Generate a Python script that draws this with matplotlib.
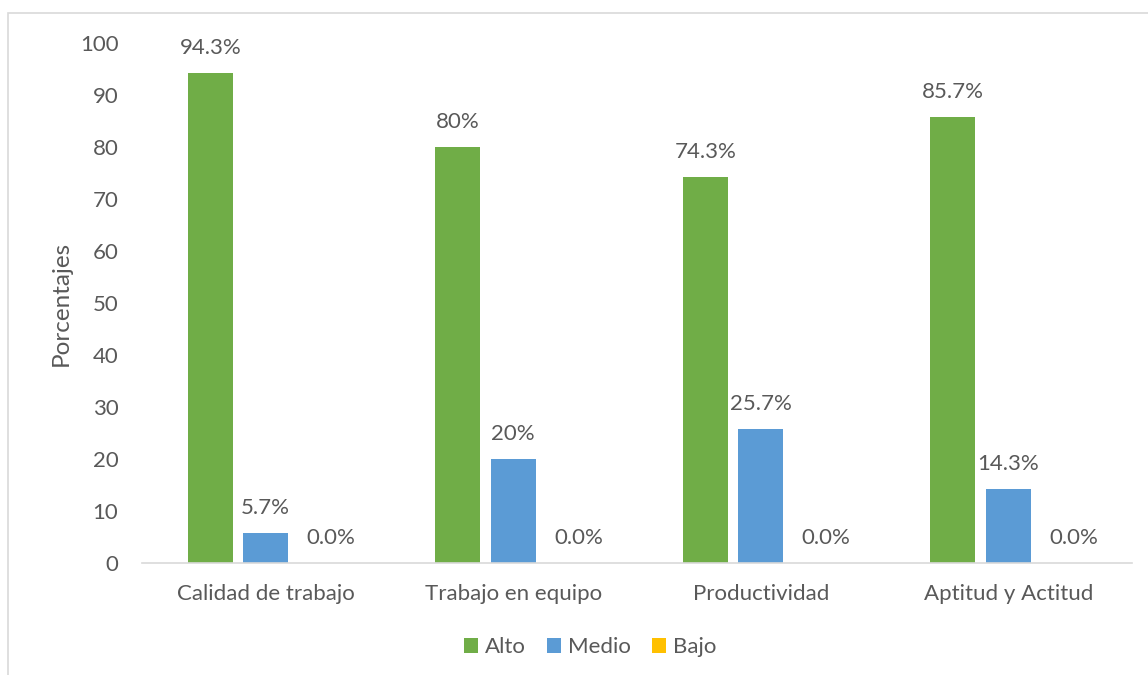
import numpy as np
import matplotlib
matplotlib.use("Agg")
import matplotlib.pyplot as plt
from matplotlib.patches import Rectangle

categorias = ["Calidad de trabajo", "Trabajo en equipo", "Productividad", "Aptitud y Actitud"]
alto = [94.3, 80, 74.3, 85.7]
medio = [5.7, 20, 25.7, 14.3]
bajo = [0.0, 0.0, 0.0, 0.0]
etiq_alto = ["94.3%", "80%", "74.3%", "85.7%"]
etiq_medio = ["5.7%", "20%", "25.7%", "14.3%"]
etiq_bajo = ["0.0%", "0.0%", "0.0%", "0.0%"]

plt.rcParams['font.family'] = ['Lato', 'DejaVu Sans']
gris = '#595959'

fig = plt.figure(figsize=(11.48, 6.75), dpi=100)
ax = fig.add_axes([142/1148, 1-563/675, (1132-142)/1148, (563-43)/675])

# marco del grafico (solo se ven el lado izquierdo y el superior)
fig.patches.append(Rectangle((8/1148, -0.1), 1.2, 1-13/675+0.1, transform=fig.transFigure,
                             fill=False, edgecolor='#D9D9D9', lw=1.2))

x = np.arange(len(categorias))
w = 0.182
off = 0.224
series = [(alto, etiq_alto, '#70AD47', 'Alto'),
          (medio, etiq_medio, '#5B9BD5', 'Medio'),
          (bajo, etiq_bajo, '#FFC000', 'Bajo')]
for i, (vals, etq, col, nom) in enumerate(series):
    pos = x + (i-1)*off
    ax.bar(pos, vals, width=w, color=col, label=nom)
    for p, v, t in zip(pos, vals, etq):
        # Excel corre un poco a la derecha las etiquetas de barras en cero
        dx = 7 if v == 0 else 0
        ax.annotate(t, (p, v + 4.8), xytext=(dx, 0), textcoords='offset points',
                    ha='center', va='center', fontsize=16, color=gris)

ax.set_xlim(-0.5, 3.5)
ax.set_ylim(0, 100)
ax.set_yticks(np.arange(0, 101, 10))
ax.set_xticks(x)
ax.set_xticklabels(categorias)
ax.tick_params(axis='both', length=0, labelsize=16, colors=gris)
ax.tick_params(axis='x', pad=15)
ax.tick_params(axis='y', pad=17)
for s in ['top', 'right', 'left']:
    ax.spines[s].set_visible(False)
ax.spines['bottom'].set_color('#D9D9D9')
ax.spines['bottom'].set_linewidth(1.2)
ax.set_ylabel('Porcentajes', fontsize=17.5, color=gris, labelpad=6)

fig.legend(loc='center', bbox_to_anchor=(590/1148, 1-647/675), ncol=3,
           frameon=False, fontsize=16, handlelength=0.65, handleheight=0.65,
           handletextpad=0.3, columnspacing=0.95, labelcolor=gris,
           borderpad=0, borderaxespad=0)

plt.savefig('out.png', dpi=100)
